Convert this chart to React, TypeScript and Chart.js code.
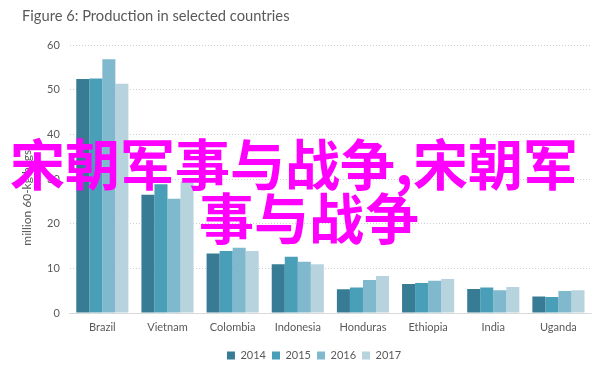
import React, { useEffect, useRef } from "react";
import { Chart, registerables } from "chart.js";

Chart.register(...registerables);

const titleText = "Figure 6: Production in selected countries";
const yAxisTitle = "million 60-kg bags";
const categories = ["Brazil", "Vietnam", "Colombia", "Indonesia", "Honduras", "Ethiopia", "India", "Uganda"];
const years = ["2014", "2015", "2016", "2017"];
const values2014 = [52.4, 26.5, 13.3, 10.9, 5.3, 6.5, 5.4, 3.7];
const values2015 = [52.5, 28.8, 13.9, 12.6, 5.7, 6.7, 5.7, 3.6];
const values2016 = [56.8, 25.6, 14.6, 11.5, 7.4, 7.2, 5.1, 4.9];
const values2017 = [51.3, 29.5, 13.9, 10.9, 8.3, 7.6, 5.8, 5.1];
const seriesColors = ["#377c94", "#4a9fb8", "#80b9cd", "#b7d3de"];
const yTickMin = 0;
const yTickMax = 60;
const yTickStep = 10;
const overlayLines = ["宋朝军事与战争,宋朝军", "事与战争"];

const FONT = "Lato, 'Open Sans', sans-serif";
const GREY = "#595959";

const yTitlePlugin = {
  id: "yTitleManual",
  afterDraw(chart: any) {
    const { ctx, chartArea } = chart;
    ctx.save();
    ctx.fillStyle = GREY;
    ctx.font = `12px ${FONT}`;
    ctx.textAlign = "center";
    ctx.textBaseline = "middle";
    ctx.translate(27, chartArea.top + (chartArea.bottom - chartArea.top) * 0.57);
    ctx.rotate(-Math.PI / 2);
    ctx.fillText(yAxisTitle, 0, 0);
    ctx.restore();
  },
};

export default function App() {
  const canvasRef = useRef<HTMLCanvasElement | null>(null);

  useEffect(() => {
    document.body.style.margin = "0";
    const ctx = canvasRef.current;
    if (!ctx) return;
    const seriesValues = [values2014, values2015, values2016, values2017];
    const chart = new Chart(ctx, {
      type: "bar",
      data: {
        labels: categories,
        datasets: years.map((y, i) => ({
          label: y,
          data: seriesValues[i],
          backgroundColor: seriesColors[i],
          borderWidth: 0,
          categoryPercentage: 0.8,
          barPercentage: 1.0,
        })),
      },
      plugins: [yTitlePlugin],
      options: {
        responsive: false,
        animation: false,
        layout: { padding: { top: 45, right: 21, left: 37, bottom: -5 } },
        plugins: {
          title: { display: false },
          tooltip: { enabled: false },
          legend: {
            display: true,
            position: "bottom",
            labels: {
              boxWidth: 8,
              boxHeight: 8,
              padding: 6,
              color: GREY,
              font: { family: FONT, size: 11 },
            },
          },
        },
        scales: {
          x: {
            grid: { display: false, drawTicks: false },
            border: { display: true, color: "#d9d9d9", width: 1 },
            ticks: {
              color: GREY,
              font: { family: FONT, size: 11 },
              padding: 8,
            },
            afterFit(scale: any) {
              scale.height = 31;
            },
          },
          y: {
            min: yTickMin,
            max: yTickMax,
            ticks: {
              stepSize: yTickStep,
              color: GREY,
              font: { family: FONT, size: 11 },
              padding: 10,
            },
            grid: {
              color: "#cfcfcf",
              drawTicks: false,
              lineWidth: 1,
            },
            border: { display: false, dash: [1, 2] },
            title: { display: false },
          },
        },
      },
    });
    return () => chart.destroy();
  }, []);

  return (
    <div style={{ position: "relative", width: 612, height: 366, background: "#fff", overflow: "hidden" }}>
      <canvas ref={canvasRef} width={612} height={366} style={{ display: "block" }} />
      <div
        style={{
          position: "absolute",
          left: 22,
          top: 6,
          fontFamily: FONT,
          fontSize: 14.7,
          color: GREY,
          whiteSpace: "nowrap",
        }}
      >
        {titleText}
      </div>
      <div
        style={{
          position: "absolute",
          left: 10,
          top: 134,
          fontFamily: "'Noto Sans CJK SC', sans-serif",
          fontWeight: 700,
          fontSize: 55,
          lineHeight: "55px",
          color: "#ff00ff",
          whiteSpace: "nowrap",
        }}
      >
        {overlayLines[0]}
      </div>
      <div
        style={{
          position: "absolute",
          left: 199,
          top: 188,
          fontFamily: "'Noto Sans CJK SC', sans-serif",
          fontWeight: 700,
          fontSize: 55,
          lineHeight: "55px",
          color: "#ff00ff",
          whiteSpace: "nowrap",
        }}
      >
        {overlayLines[1]}
      </div>
    </div>
  );
}
